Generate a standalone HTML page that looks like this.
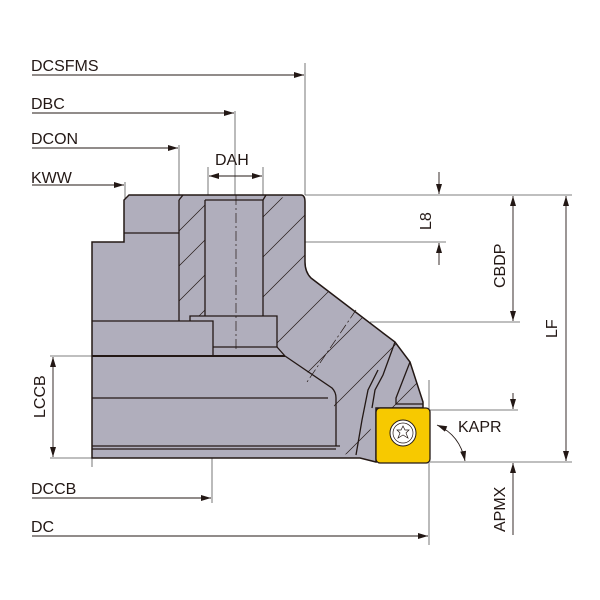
<!DOCTYPE html>
<html><head><style>html,body{margin:0;padding:0;background:#fff}svg{display:block}</style></head>
<body>
<svg width="600" height="600" viewBox="0 0 600 600" xmlns="http://www.w3.org/2000/svg" font-family="Liberation Sans, DejaVu Sans, sans-serif" font-size="16">
<defs>
<marker id="a" viewBox="0 0 10 6" refX="10" refY="3" markerWidth="10" markerHeight="6" orient="auto-start-reverse" markerUnits="userSpaceOnUse"><path d="M0,0L10,3L0,6z" fill="#231815"/></marker>
<clipPath id="h1"><rect x="179" y="200" width="26" height="116"/></clipPath>
<clipPath id="h2"><path d="M263,200 L301,195 L305,199 L305,262 Q305,272 311,278 L383,333 L395,342 L410,362 L423,402 L423,408 L376,408 L368,440 L360,450 L340,456 L332,390 L285,356 L277,347 L277,316 L263,316 Z"/></clipPath>
</defs>
<g stroke="#555" stroke-width="0.8" fill="none">
<line x1="305" y1="63" x2="305" y2="195"/>
<line x1="235" y1="111" x2="235" y2="200"/>
<line x1="179" y1="145" x2="179" y2="200"/>
<line x1="125" y1="182" x2="125" y2="200"/>
<line x1="208" y1="167" x2="208" y2="200"/>
<line x1="263" y1="167" x2="263" y2="200"/>
<line x1="305" y1="195" x2="572" y2="195"/>
<line x1="300" y1="242" x2="446" y2="242"/>
<line x1="370" y1="322" x2="520" y2="322"/>
<line x1="50" y1="356" x2="92" y2="356"/>
<line x1="50" y1="458" x2="92" y2="458"/>
<line x1="92" y1="458" x2="92" y2="467"/>
<line x1="430" y1="410" x2="518" y2="410"/>
<line x1="430" y1="462" x2="572" y2="462"/>
<line x1="429" y1="380" x2="429" y2="545"/>
<line x1="212" y1="340" x2="212" y2="503"/>
</g>
<path d="M92,242 L124,242 L124,200 L129,195 L301,195 Q305,195 305,202 L305,262 Q305,272 311,278 L383,333 L395,342 L410,362 L423,402 L423,408 L376,408 L376,462 L360,458 L92,458 Z" fill="#b0aebc" stroke="#231815" stroke-width="1.5"/>
<g stroke="#231815" stroke-width="0.7" clip-path="url(#h1)">
<path d="M160,250 L230,180 M160,285 L230,215 M160,320 L230,250 M160,355 L230,285"/>
</g>
<g stroke="#231815" stroke-width="0.7" clip-path="url(#h2)">
<path d="M230,250 L330,150 M230,290 L330,190 M230,330 L350,210 M250,370 L390,230 M290,390 L430,250 M320,420 L460,280 M330,470 L470,330"/>
</g>
<g stroke="#231815" stroke-width="1.3" fill="none">
<line x1="124" y1="233" x2="179" y2="233"/>
<line x1="179" y1="200" x2="179" y2="321"/>
<line x1="205" y1="200" x2="205" y2="316"/>
<line x1="263" y1="200" x2="263" y2="316"/>
<line x1="205" y1="200" x2="263" y2="200"/>
<line x1="179" y1="200" x2="183" y2="195"/>
<line x1="263" y1="200" x2="266" y2="195"/>
<path d="M190,321 L190,316 L277,316 L277,347 L213,347"/>
<path d="M92,321 L213,321 L213,356"/>
<line x1="277" y1="347" x2="285" y2="356"/>
<line x1="92" y1="356" x2="285" y2="356" stroke-width="2"/>
<path d="M285,356 L332,388 Q336,392 336,398 L336,446"/>
<line x1="92" y1="398" x2="328" y2="398"/>
<line x1="92" y1="446" x2="340" y2="446"/>
<line x1="92" y1="449" x2="336" y2="449"/>
<path d="M395,342 L383,375 L375,390 L372,408"/>
<path d="M410,362 L396,398 L396,404 L423,404"/>
<path d="M378,370 L368,390 L362,420 L356,455"/>
</g>
<g stroke="#231815" stroke-width="0.7" stroke-dasharray="10,3,2,3" fill="none">
<line x1="236" y1="195" x2="236" y2="350"/>
<line x1="356" y1="310" x2="307" y2="382"/>
</g>
<rect x="376" y="408" width="54" height="55" rx="4" fill="#f7c900" stroke="#231815" stroke-width="1.3"/>
<circle cx="403" cy="433" r="13" fill="#fff" stroke="#231815" stroke-width="1"/>
<circle cx="403" cy="433" r="10" fill="none" stroke="#231815" stroke-width="0.7"/>
<path d="M403,426 L405,430 L409,430 L406,433 L408,438 L403,435 L398,438 L400,433 L397,430 L401,430 Z" fill="none" stroke="#231815" stroke-width="0.7"/>
<g stroke="#231815" stroke-width="0.9" fill="none">
<line x1="32" y1="75" x2="304" y2="75" marker-end="url(#a)"/>
<line x1="32" y1="113" x2="234" y2="113" marker-end="url(#a)"/>
<line x1="32" y1="148" x2="178" y2="148" marker-end="url(#a)"/>
<line x1="32" y1="185" x2="124" y2="185" marker-end="url(#a)"/>
<line x1="209" y1="176" x2="262" y2="176" marker-start="url(#a)" marker-end="url(#a)"/>
<line x1="32" y1="498" x2="211" y2="498" marker-end="url(#a)"/>
<line x1="32" y1="536" x2="428" y2="536" marker-end="url(#a)"/>
<line x1="439" y1="172" x2="439" y2="194" marker-end="url(#a)"/>
<line x1="439" y1="265" x2="439" y2="243" marker-end="url(#a)"/>
<line x1="513" y1="196" x2="513" y2="321" marker-start="url(#a)" marker-end="url(#a)"/>
<line x1="566" y1="196" x2="566" y2="461" marker-start="url(#a)" marker-end="url(#a)"/>
<line x1="53" y1="357" x2="53" y2="457" marker-start="url(#a)" marker-end="url(#a)"/>
<line x1="513" y1="393" x2="513" y2="409" marker-end="url(#a)"/>
<line x1="513" y1="535" x2="513" y2="463" marker-end="url(#a)"/>
<path d="M437,425 Q460,435 465,461" marker-start="url(#a)" marker-end="url(#a)"/>
</g>
<g fill="#231815">
<text x="31" y="71">DCSFMS</text>
<text x="31" y="109">DBC</text>
<text x="31" y="144">DCON</text>
<text x="31" y="183">KWW</text>
<text x="215" y="165">DAH</text>
<text x="31" y="494">DCCB</text>
<text x="31" y="532">DC</text>
<text x="458" y="432">KAPR</text>
<text transform="translate(431,230) rotate(-90)">L8</text>
<text transform="translate(505,288) rotate(-90)">CBDP</text>
<text transform="translate(557,338) rotate(-90)">LF</text>
<text transform="translate(45,418) rotate(-90)">LCCB</text>
<text transform="translate(505,532) rotate(-90)">APMX</text>
</g>
</svg>
</body></html>
